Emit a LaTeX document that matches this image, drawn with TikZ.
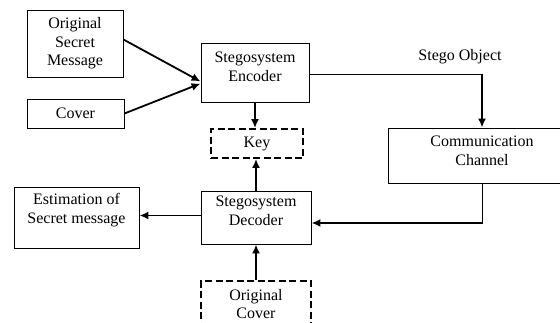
\documentclass[tikz,border=0pt]{standalone}
\usepackage{fontspec}
\setmainfont{Liberation Serif}
\usetikzlibrary{arrows.meta, positioning, calc}

\begin{document}
\begin{tikzpicture}[x=1pt, y=-1pt, >={Latex[length=9pt, width=8pt]},
    box/.style={draw, line width=0.9pt, align=center, inner sep=0pt, font=\fontsize{16}{18.5}\selectfont},
    dashbox/.style={box, line width=1.8pt, dash pattern=on 7pt off 3.5pt},
    flow/.style={->, line width=1.8pt},
    wire/.style={line width=1pt}]
      \useasboundingbox (0,0) rectangle (560,322);
      \clip (0,0) rectangle (560,322);

      % Sender side
      \node[box, minimum width=96, minimum height=67] (orig) at (75,43.5) {Original\\Secret\\Message};
      \node[box, minimum width=97, minimum height=29] (cover) at (75.5,113.5) {Cover};
      \node[box, minimum width=108, minimum height=59, text depth=12pt] (encoder) at (255,72.5) {Stegosystem\\Encoder};
      \node[dashbox, minimum width=92, minimum height=29] (key) at (257,143.5) {Key};

      % Channel
      \node[box, minimum width=188, minimum height=55, text depth=10pt] (channel) at (482,155.5) {Communication\\Channel};
      \node[font=\fontsize{16}{18}\selectfont] (stegolbl) at (460,57) {Stego Object};

      % Receiver side
      \node[box, minimum width=110, minimum height=53, text depth=14pt] (decoder) at (256,217.5) {Stegosystem\\Decoder};
      \node[box, minimum width=125, minimum height=61, text depth=18pt] (estim) at (76.5,217.5) {Estimation of\\Secret message};
      \node[dashbox, minimum width=110, minimum height=64, text depth=18pt] (origcover) at (256,313) {Original\\Cover};

      % Bends
      \coordinate (bendA) at (channel.north |- 0,74);
      \coordinate (bendB) at (channel.south |- 0,223);

      % Connectors
      \draw[flow] ([yshift=4pt]orig.east) -- ([yshift=-9pt]encoder.west);
      \draw[flow] (cover.east) -- ([yshift=-11pt]encoder.west);
      \draw[wire] ([yshift=-1.5pt]encoder.east) -- (bendA);
      \draw[flow] ([yshift=0.5pt]bendA) -- (channel.north);
      \draw[wire] (channel.south) -- (bendB);
      \draw[flow] ([xshift=0.9pt]bendB) -- (bendB -| decoder.east);
      \draw[flow] (encoder.south) -- (encoder.south |- key.north);
      \draw[flow] (decoder.north) -- (decoder.north |- key.south);
      \draw[flow] ([yshift=2pt]decoder.west) -- ([yshift=2pt]estim.east);
      \draw[flow] (origcover.north) -- (decoder.south);
\end{tikzpicture}
\end{document}
